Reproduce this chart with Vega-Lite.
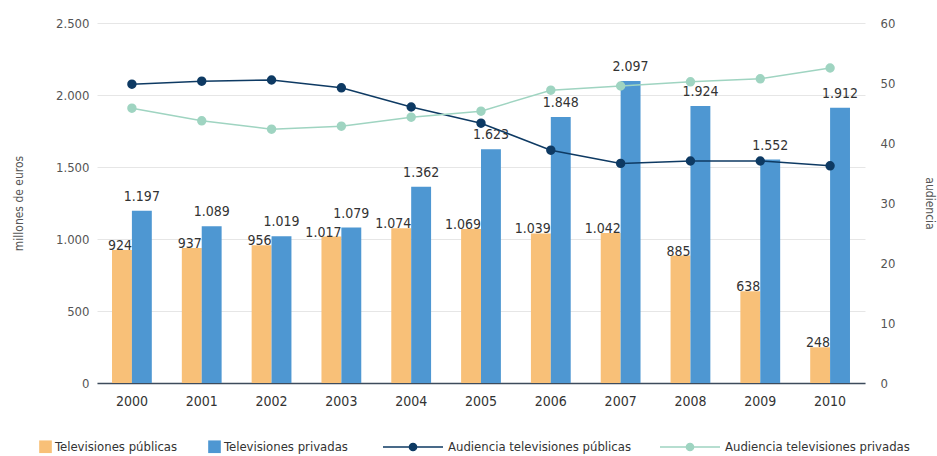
{
  "$schema": "https://vega.github.io/schema/vega-lite/v6.json",
  "width": 768,
  "height": 360,
  "autosize": {"type": "none"},
  "padding": {"left": 97, "top": 23, "right": 72, "bottom": 73},
  "background": "white",
  "datasets": {
    "gasto": [
      {"year": "2000", "serie": "Televisiones públicas", "value": 924},
      {"year": "2001", "serie": "Televisiones públicas", "value": 937},
      {"year": "2002", "serie": "Televisiones públicas", "value": 956},
      {"year": "2003", "serie": "Televisiones públicas", "value": 1017},
      {"year": "2004", "serie": "Televisiones públicas", "value": 1074},
      {"year": "2005", "serie": "Televisiones públicas", "value": 1069},
      {"year": "2006", "serie": "Televisiones públicas", "value": 1039},
      {"year": "2007", "serie": "Televisiones públicas", "value": 1042},
      {"year": "2008", "serie": "Televisiones públicas", "value": 885},
      {"year": "2009", "serie": "Televisiones públicas", "value": 638},
      {"year": "2010", "serie": "Televisiones públicas", "value": 248},
      {"year": "2000", "serie": "Televisiones privadas", "value": 1197},
      {"year": "2001", "serie": "Televisiones privadas", "value": 1089},
      {"year": "2002", "serie": "Televisiones privadas", "value": 1019},
      {"year": "2003", "serie": "Televisiones privadas", "value": 1079},
      {"year": "2004", "serie": "Televisiones privadas", "value": 1362},
      {"year": "2005", "serie": "Televisiones privadas", "value": 1623},
      {"year": "2006", "serie": "Televisiones privadas", "value": 1848},
      {"year": "2007", "serie": "Televisiones privadas", "value": 2097},
      {"year": "2008", "serie": "Televisiones privadas", "value": 1924},
      {"year": "2009", "serie": "Televisiones privadas", "value": 1552},
      {"year": "2010", "serie": "Televisiones privadas", "value": 1912}
    ],
    "audiencia": [
      {"year": "2000", "serie": "Audiencia televisiones públicas", "value": 49.8},
      {"year": "2001", "serie": "Audiencia televisiones públicas", "value": 50.3},
      {"year": "2002", "serie": "Audiencia televisiones públicas", "value": 50.5},
      {"year": "2003", "serie": "Audiencia televisiones públicas", "value": 49.2},
      {"year": "2004", "serie": "Audiencia televisiones públicas", "value": 46.0},
      {"year": "2005", "serie": "Audiencia televisiones públicas", "value": 43.3},
      {"year": "2006", "serie": "Audiencia televisiones públicas", "value": 38.8},
      {"year": "2007", "serie": "Audiencia televisiones públicas", "value": 36.6},
      {"year": "2008", "serie": "Audiencia televisiones públicas", "value": 37.0},
      {"year": "2009", "serie": "Audiencia televisiones públicas", "value": 37.0},
      {"year": "2010", "serie": "Audiencia televisiones públicas", "value": 36.2},
      {"year": "2000", "serie": "Audiencia televisiones privadas", "value": 45.8},
      {"year": "2001", "serie": "Audiencia televisiones privadas", "value": 43.7},
      {"year": "2002", "serie": "Audiencia televisiones privadas", "value": 42.3},
      {"year": "2003", "serie": "Audiencia televisiones privadas", "value": 42.8},
      {"year": "2004", "serie": "Audiencia televisiones privadas", "value": 44.3},
      {"year": "2005", "serie": "Audiencia televisiones privadas", "value": 45.3},
      {"year": "2006", "serie": "Audiencia televisiones privadas", "value": 48.8},
      {"year": "2007", "serie": "Audiencia televisiones privadas", "value": 49.5},
      {"year": "2008", "serie": "Audiencia televisiones privadas", "value": 50.2},
      {"year": "2009", "serie": "Audiencia televisiones privadas", "value": 50.7},
      {"year": "2010", "serie": "Audiencia televisiones privadas", "value": 52.5}
    ]
  },
  "encoding": {
    "x": {
      "field": "year",
      "type": "ordinal",
      "scale": {"paddingInner": 0.43, "paddingOuter": 0.215},
      "axis": {
        "title": null,
        "labelAngle": 0,
        "ticks": false,
        "domainColor": "#3d4b5c",
        "domainWidth": 1.5,
        "labelPadding": 11,
        "labelFontSize": 14,
        "labelColor": "#333333",
        "grid": false
      }
    }
  },
  "layer": [
    {
      "data": {"name": "gasto"},
      "encoding": {
        "xOffset": {
          "field": "serie",
          "scale": {"domain": ["Televisiones públicas", "Televisiones privadas"], "paddingInner": 0, "paddingOuter": 0}
        },
        "y": {
          "field": "value",
          "type": "quantitative",
          "scale": {"domain": [0, 2500]},
          "axis": {
            "title": "millones de euros",
            "values": [0, 500, 1000, 1500, 2000, 2500],
            "format": ",.0f",
            "domain": false,
            "ticks": false,
            "labelPadding": 8,
            "labelFontSize": 13,
            "labelColor": "#555555",
            "titleFontSize": 12,
            "titleFontWeight": "normal",
            "titleColor": "#555555",
            "titlePadding": 30,
            "grid": true,
            "gridColor": "#e6e6e6"
          }
        }
      },
      "layer": [
        {
          "mark": {"type": "bar"},
          "encoding": {
            "fill": {
              "field": "serie",
              "type": "nominal",
              "scale": {"domain": ["Televisiones públicas", "Televisiones privadas"], "range": ["#F8C078", "#4E97D2"]},
              "legend": {
                "title": null,
                "orient": "none",
                "direction": "horizontal",
                "legendX": -58,
                "legendY": 417,
                "symbolType": "square",
                "symbolSize": 160,
                "symbolStrokeWidth": 0,
                "labelFontSize": 13,
                "labelColor": "#333333",
                "labelOffset": 3,
                "labelLimit": 400,
                "columnPadding": 30
              }
            }
          }
        },
        {
          "transform": [{"filter": "datum.serie === 'Televisiones públicas'"}],
          "mark": {"type": "text", "align": "right", "baseline": "bottom", "dx": 10, "dy": 3, "fontSize": 14, "color": "#333333"},
          "encoding": {"text": {"field": "value", "type": "quantitative", "format": ",.0f"}}
        },
        {
          "transform": [{"filter": "datum.serie === 'Televisiones privadas'"}],
          "mark": {"type": "text", "align": "center", "baseline": "bottom", "dy": -7, "fontSize": 14, "color": "#333333"},
          "encoding": {"text": {"field": "value", "type": "quantitative", "format": ",.0f"}}
        }
      ]
    },
    {
      "data": {"name": "audiencia"},
      "encoding": {
        "y": {
          "field": "value",
          "type": "quantitative",
          "scale": {"domain": [0, 60]},
          "axis": {
            "orient": "right",
            "title": "audiencia",
            "values": [0, 10, 20, 30, 40, 50, 60],
            "domain": false,
            "ticks": false,
            "grid": false,
            "labelPadding": 15,
            "labelFontSize": 13,
            "labelColor": "#555555",
            "titleFontSize": 12,
            "titleFontWeight": "normal",
            "titleColor": "#555555",
            "titlePadding": 28
          }
        },
        "stroke": {
          "field": "serie",
          "type": "nominal",
          "scale": {"domain": ["Audiencia televisiones públicas", "Audiencia televisiones privadas"], "range": ["#0E3A63", "#9FD4C1"]},
          "legend": {
            "title": null,
            "orient": "none",
            "direction": "horizontal",
            "legendX": 285,
            "legendY": 393,
            "symbolType": "M-1,0H1M-0.12,0A0.12,0.12,0,1,1,0.12,0A0.12,0.12,0,1,1,-0.12,0Z",
            "symbolSize": 3600,
            "symbolStrokeWidth": 1.5,
            "labelFontSize": 13,
            "labelColor": "#333333",
            "labelOffset": 4,
            "labelLimit": 400,
            "columnPadding": 25,
            "encode": {"symbols": {"update": {"fill": {"scale": "stroke", "field": "value"}, "fillOpacity": {"value": 1}}}}
          }
        }
      },
      "layer": [
        {"mark": {"type": "line", "strokeWidth": 1.5}},
        {"mark": {"type": "point", "filled": true, "size": 55, "opacity": 1}, "encoding": {"fill": {"field": "serie", "type": "nominal", "scale": {"domain": ["Audiencia televisiones públicas", "Audiencia televisiones privadas"], "range": ["#0E3A63", "#9FD4C1"]}, "legend": null}}}
      ]
    }
  ],
  "resolve": {"scale": {"y": "independent", "fill": "independent"}},
  "config": {
    "view": {"stroke": null},
    "font": "'DejaVu Sans Condensed', 'Liberation Sans Narrow', Roboto, sans-serif",
    "locale": {"number": {"decimal": ",", "thousands": ".", "grouping": [3], "currency": ["", " €"]}}
  }
}
